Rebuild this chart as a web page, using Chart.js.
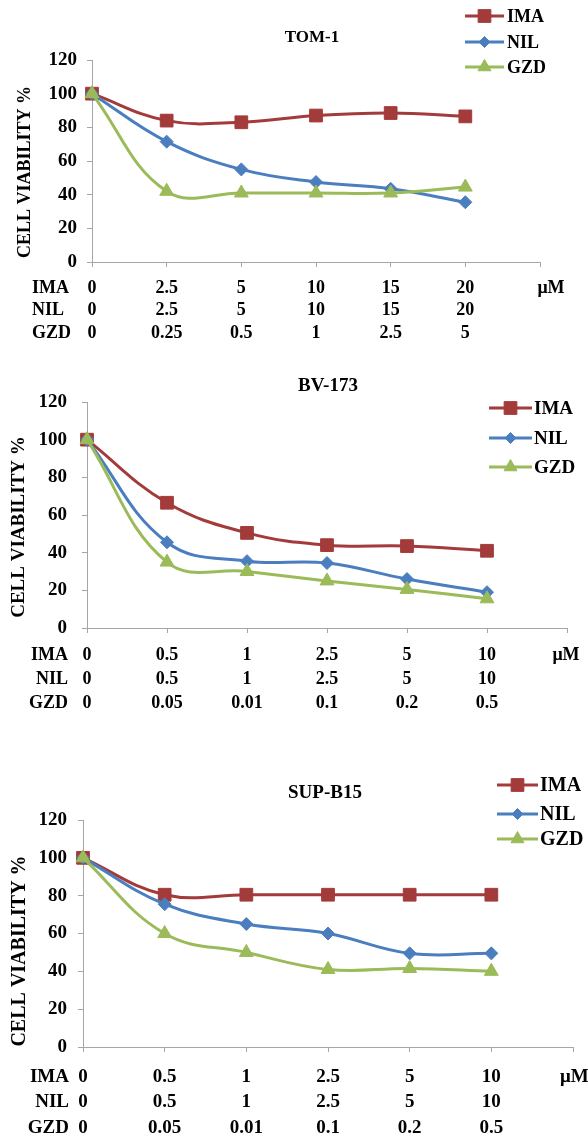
<!DOCTYPE html>
<html>
<head>
<meta charset="utf-8">
<script src="https://cdn.jsdelivr.net/npm/chart.js@4.4.1/dist/chart.umd.min.js"></script>
<style>
  html, body { margin: 0; padding: 0; background: #fff; }
  body { width: 588px; height: 1142px; position: relative; overflow: hidden; }
  canvas { position: absolute; left: 0; }
</style>
</head>
<body>
<canvas id="c1" width="588" height="350" style="top:0px"></canvas>
<canvas id="c2" width="588" height="375" style="top:350px"></canvas>
<canvas id="c3" width="588" height="417" style="top:725px"></canvas>
<script>
// ---- Doses (µM) and cell viability (%) per cell line ----
const seriesNames = ['IMA', 'NIL', 'GZD'];
const doseUnit = 'μM';
const yMin = 0, yMax = 120, yStep = 20;

// TOM-1
const tomDoseIma = ['0', '2.5', '5', '10', '15', '20'];
const tomDoseNil = ['0', '2.5', '5', '10', '15', '20'];
const tomDoseGzd = ['0', '0.25', '0.5', '1', '2.5', '5'];
const tomIma = [100, 84, 83, 87, 88.5, 86.5];
const tomNil = [100, 71.5, 55, 47.5, 43.5, 35.5];
const tomGzd = [100, 42, 41, 41, 41, 44.5];

// BV-173
const bvDoseIma = ['0', '0.5', '1', '2.5', '5', '10'];
const bvDoseNil = ['0', '0.5', '1', '2.5', '5', '10'];
const bvDoseGzd = ['0', '0.05', '0.01', '0.1', '0.2', '0.5'];
const bvIma = [100, 66.5, 50.5, 44, 43.5, 41];
const bvNil = [100, 45.5, 35.5, 34.5, 26, 19];
const bvGzd = [100, 35, 30, 25, 20.5, 15.5];

// SUP-B15
const supDoseIma = ['0', '0.5', '1', '2.5', '5', '10'];
const supDoseNil = ['0', '0.5', '1', '2.5', '5', '10'];
const supDoseGzd = ['0', '0.05', '0.01', '0.1', '0.2', '0.5'];
const supIma = [100, 80.5, 80.5, 80.5, 80.5, 80.5];
const supNil = [100, 75.5, 65, 60, 49.5, 49.5];
const supGzd = [100, 60, 50, 41, 41.5, 40];

// ---- Appearance ----
const FONT = "'Liberation Serif', 'Times New Roman', serif";
const seriesStyle = [
  { color: '#A33B3A', point: 'rect',     radius: 9,   legendRadius: 9,   order: 3 },
  { color: '#4A7EBF', point: 'rectRot',  radius: 6.5, legendRadius: 5.5, order: 2 },
  { color: '#9BBB59', point: 'triangle', radius: 8,   legendRadius: 7.5, order: 1 }
];
const AXIS_COLOR = '#A6A6A6';
const TICK_LEN = 5;

const panels = [
  {
    id: 'c1', title: 'TOM-1', height: 350,
    doses: [tomDoseIma, tomDoseNil, tomDoseGzd], values: [tomIma, tomNil, tomGzd],
    area: { left: 92, right: 540, top: 60, bottom: 262 },
    xFont: 18, xLine: 22.5, xPad: 10, yFont: 19, yPad: 10,
    titlePos: { x: 312, y: 38, size: 17 },
    legend: { x0: 465, x1: 504, tx: 507, ys: [16, 42, 67], size: 18 },
    yTitle: { x: 25, y: 172, size: 18 },
    rowHead: { x: 32, align: 'left' },
    unit: { x: 551, align: 'center' }
  },
  {
    id: 'c2', title: 'BV-173', height: 375,
    doses: [bvDoseIma, bvDoseNil, bvDoseGzd], values: [bvIma, bvNil, bvGzd],
    area: { left: 87, right: 567, top: 52, bottom: 278 },
    xFont: 18, xLine: 24, xPad: 10, yFont: 19, yPad: 15,
    titlePos: { x: 328, y: 36, size: 19 },
    legend: { x0: 489, x1: 532, tx: 534, ys: [58, 88, 117], size: 19 },
    yTitle: { x: 19, y: 177, size: 19 },
    rowHead: { x: 68, align: 'right' },
    unit: { x: 566, align: 'center' }
  },
  {
    id: 'c3', title: 'SUP-B15', height: 417,
    doses: [supDoseIma, supDoseNil, supDoseGzd], values: [supIma, supNil, supGzd],
    area: { left: 83, right: 573, top: 95, bottom: 322 },
    xFont: 19, xLine: 25.5, xPad: 12, yFont: 19, yPad: 11,
    titlePos: { x: 325, y: 68, size: 19 },
    legend: { x0: 497, x1: 538, tx: 540, ys: [60, 89, 114], size: 20 },
    yTitle: { x: 20, y: 226, size: 20 },
    rowHead: { x: 69, align: 'right' },
    unit: { x: 560, align: 'left' }
  }
];

// Titles, legend, axis title, dose-row headers and unit drawn on top of each chart
const annotations = {
  id: 'annotations',
  afterDraw(chart, args, opts) {
    const p = opts.panel;
    const ctx = chart.ctx;
    ctx.save();
    ctx.fillStyle = '#000';

    // title
    ctx.font = `bold ${p.titlePos.size}px ${FONT}`;
    ctx.textAlign = 'center';
    ctx.textBaseline = 'middle';
    ctx.fillText(p.title, p.titlePos.x, p.titlePos.y);

    // legend: line with marker, then label
    seriesNames.forEach((name, i) => {
      const s = seriesStyle[i];
      const y = p.legend.ys[i];
      ctx.strokeStyle = s.color;
      ctx.lineWidth = 3;
      ctx.beginPath();
      ctx.moveTo(p.legend.x0, y);
      ctx.lineTo(p.legend.x1, y);
      ctx.stroke();
      ctx.fillStyle = s.color;
      ctx.lineWidth = 1;
      Chart.helpers.drawPoint(ctx, { pointStyle: s.point, radius: s.legendRadius, rotation: 0, borderWidth: 1 },
        (p.legend.x0 + p.legend.x1) / 2, y);
      ctx.fillStyle = '#000';
      ctx.font = `bold ${p.legend.size}px ${FONT}`;
      ctx.textAlign = 'left';
      ctx.textBaseline = 'middle';
      ctx.fillText(name, p.legend.tx, y + 1);
    });

    // vertical axis title
    ctx.save();
    ctx.translate(p.yTitle.x, p.yTitle.y);
    ctx.rotate(-Math.PI / 2);
    ctx.font = `bold ${p.yTitle.size}px ${FONT}`;
    ctx.textAlign = 'center';
    ctx.textBaseline = 'middle';
    ctx.fillText('CELL VIABILITY %', 0, 0);
    ctx.restore();

    // dose row headers, aligned with the x tick label lines
    const xs = chart.scales.x;
    const firstLine = xs.top + TICK_LEN + p.xPad + p.xLine / 2;
    ctx.font = `bold ${p.xFont}px ${FONT}`;
    ctx.textBaseline = 'middle';
    ctx.textAlign = p.rowHead.align;
    seriesNames.forEach((name, i) => {
      ctx.fillText(name, p.rowHead.x, firstLine + i * p.xLine);
    });
    ctx.textAlign = p.unit.align;
    ctx.fillText(doseUnit, p.unit.x, firstLine);
    ctx.restore();
  }
};

panels.forEach(p => {
  // one label per dose level: three lines (IMA / NIL / GZD), plus an empty end slot
  const labels = p.doses[0].map((d, i) => [p.doses[0][i], p.doses[1][i], p.doses[2][i]]);
  labels.push(['', '', '']);

  const datasets = seriesNames.map((name, i) => ({
    label: name,
    data: p.values[i],
    borderColor: seriesStyle[i].color,
    backgroundColor: seriesStyle[i].color,
    pointBackgroundColor: seriesStyle[i].color,
    pointBorderColor: seriesStyle[i].color,
    pointStyle: seriesStyle[i].point,
    pointRadius: seriesStyle[i].radius,
    pointHoverRadius: seriesStyle[i].radius,
    pointBorderWidth: 1,
    borderWidth: 3,
    tension: 0.4,
    fill: false,
    order: seriesStyle[i].order
  }));

  new Chart(document.getElementById(p.id), {
    type: 'line',
    data: { labels, datasets },
    plugins: [annotations],
    options: {
      responsive: false,
      animation: false,
      devicePixelRatio: 1,
      layout: {
        padding: { left: 0, top: p.area.top, right: 588 - p.area.right, bottom: 0 }
      },
      plugins: {
        legend: { display: false },
        tooltip: { enabled: false },
        annotations: { panel: p }
      },
      scales: {
        x: {
          type: 'category',
          offset: false,
          afterFit(scale) { scale.height = p.height - p.area.bottom; },
          border: { color: AXIS_COLOR, width: 1 },
          grid: { drawOnChartArea: false, drawTicks: true, tickLength: TICK_LEN, color: AXIS_COLOR },
          ticks: {
            autoSkip: false, maxRotation: 0, minRotation: 0,
            padding: p.xPad, color: '#000',
            font: { family: FONT, size: p.xFont, weight: 'bold', lineHeight: p.xLine / p.xFont }
          }
        },
        y: {
          min: yMin, max: yMax,
          afterFit(scale) { scale.width = p.area.left; },
          border: { color: AXIS_COLOR, width: 1 },
          grid: { drawOnChartArea: false, drawTicks: true, tickLength: TICK_LEN, color: AXIS_COLOR },
          ticks: {
            stepSize: yStep, padding: p.yPad, color: '#000',
            font: { family: FONT, size: p.yFont, weight: 'bold' }
          }
        }
      }
    }
  });
});
</script>
</body>
</html>
